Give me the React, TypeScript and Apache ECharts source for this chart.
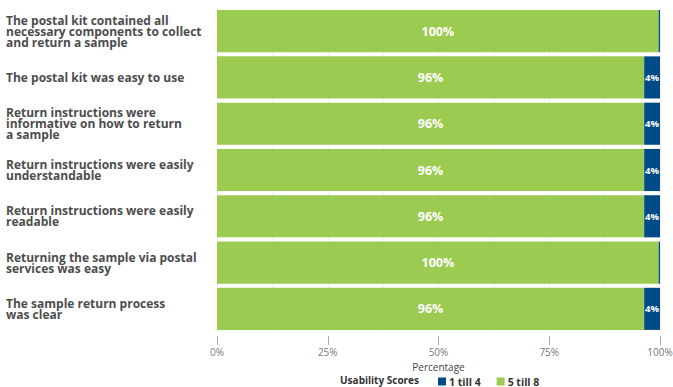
import React, { useEffect, useRef } from "react";
import * as echarts from "echarts";

const categories = [
  "The postal kit contained all\nnecessary components to collect\nand return a sample",
  "The postal kit was easy to use",
  "Return instructions were\ninformative on how to return\na sample",
  "Return instructions were easily\nunderstandable",
  "Return instructions were easily\nreadable",
  "Returning the sample via postal\nservices was easy",
  "The sample return process\nwas clear",
];
const low = [0.3, 3.57, 3.57, 3.57, 3.57, 0.3, 3.57]; // 1 till 4
const high = [99.7, 96.43, 96.43, 96.43, 96.43, 99.7, 96.43]; // 5 till 8
const xTicks = [0, 25, 50, 75, 100];

const FONT = "'Open Sans', Lato, sans-serif";

export default function App() {
  const ref = useRef<HTMLDivElement>(null);
  useEffect(() => {
    const chart = echarts.init(ref.current!, null, { renderer: "svg" });
    chart.setOption({
      animation: false,
      textStyle: { fontFamily: FONT },
      grid: { left: 217, right: 13, top: 8, bottom: 55, containLabel: false, outerBoundsMode: "none" },
      xAxis: {
        type: "value",
        min: xTicks[0],
        max: xTicks[xTicks.length - 1],
        interval: 25,
        offset: 4,
        name: "Percentage",
        nameLocation: "middle",
        nameGap: 25,
        nameTextStyle: { color: "#444", fontSize: 10, fontFamily: FONT },
        axisLine: { show: false },
        axisTick: { show: true, length: 9, lineStyle: { color: "#aaa" } },
        axisLabel: {
          formatter: (v: number) => v + "%",
          color: "#777",
          fontSize: 10,
          margin: 11,
          fontFamily: FONT,
        },
        splitLine: { show: true, lineStyle: { color: "#eef2f7" } },
        minorSplitLine: { show: true, lineStyle: { color: "#eef2f7" } },
        minorTick: { show: false, splitNumber: 2 },
      },
      yAxis: {
        type: "category",
        data: categories,
        inverse: true,
        axisLine: { show: false },
        axisTick: { show: false },
        axisLabel: {
          align: "left",
          margin: 211,
          color: "#4d4d4d",
          fontWeight: "bold",
          fontSize: 12,
          lineHeight: 11,
          fontFamily: FONT,
        },
      },
      legend: {
        left: 433,
        top: 371,
        itemWidth: 8,
        itemHeight: 8,
        itemGap: 16,
        icon: "rect",
        textStyle: { color: "#333", fontSize: 10.5, fontWeight: "bold", fontFamily: FONT, padding: [0, 0, 0, -2] },
        data: ["1 till 4", "5 till 8"],
      },
      graphic: [
        {
          type: "text",
          right: 673 - 419,
          top: 375,
          style: { text: "Usability Scores", fill: "#333", font: `bold 10px ${FONT}` },
        },
      ],
      series: [
        {
          name: "5 till 8",
          type: "bar",
          stack: "s",
          barCategoryGap: "9%",
          data: high,
          itemStyle: { color: "#9CCB52" },
          label: {
            show: true,
            position: "inside",
            color: "#fff",
            fontWeight: "bold",
            fontSize: 12.5,
            fontFamily: FONT,
            formatter: (p: any) => Math.round(p.value) + "%",
          },
        },
        {
          name: "1 till 4",
          type: "bar",
          stack: "s",
          data: low,
          itemStyle: { color: "#004B87" },
          label: {
            show: true,
            position: "inside",
            color: "#fff",
            fontWeight: "bold",
            fontSize: 9.5,
            fontFamily: FONT,
            formatter: (p: any) => (p.value >= 1 ? Math.round(p.value) + "%" : ""),
          },
        },
      ],
    });
    return () => chart.dispose();
  }, []);
  return <div ref={ref} style={{ width: 673, height: 387, position: "absolute", left: 0, top: 0 }} />;
}
